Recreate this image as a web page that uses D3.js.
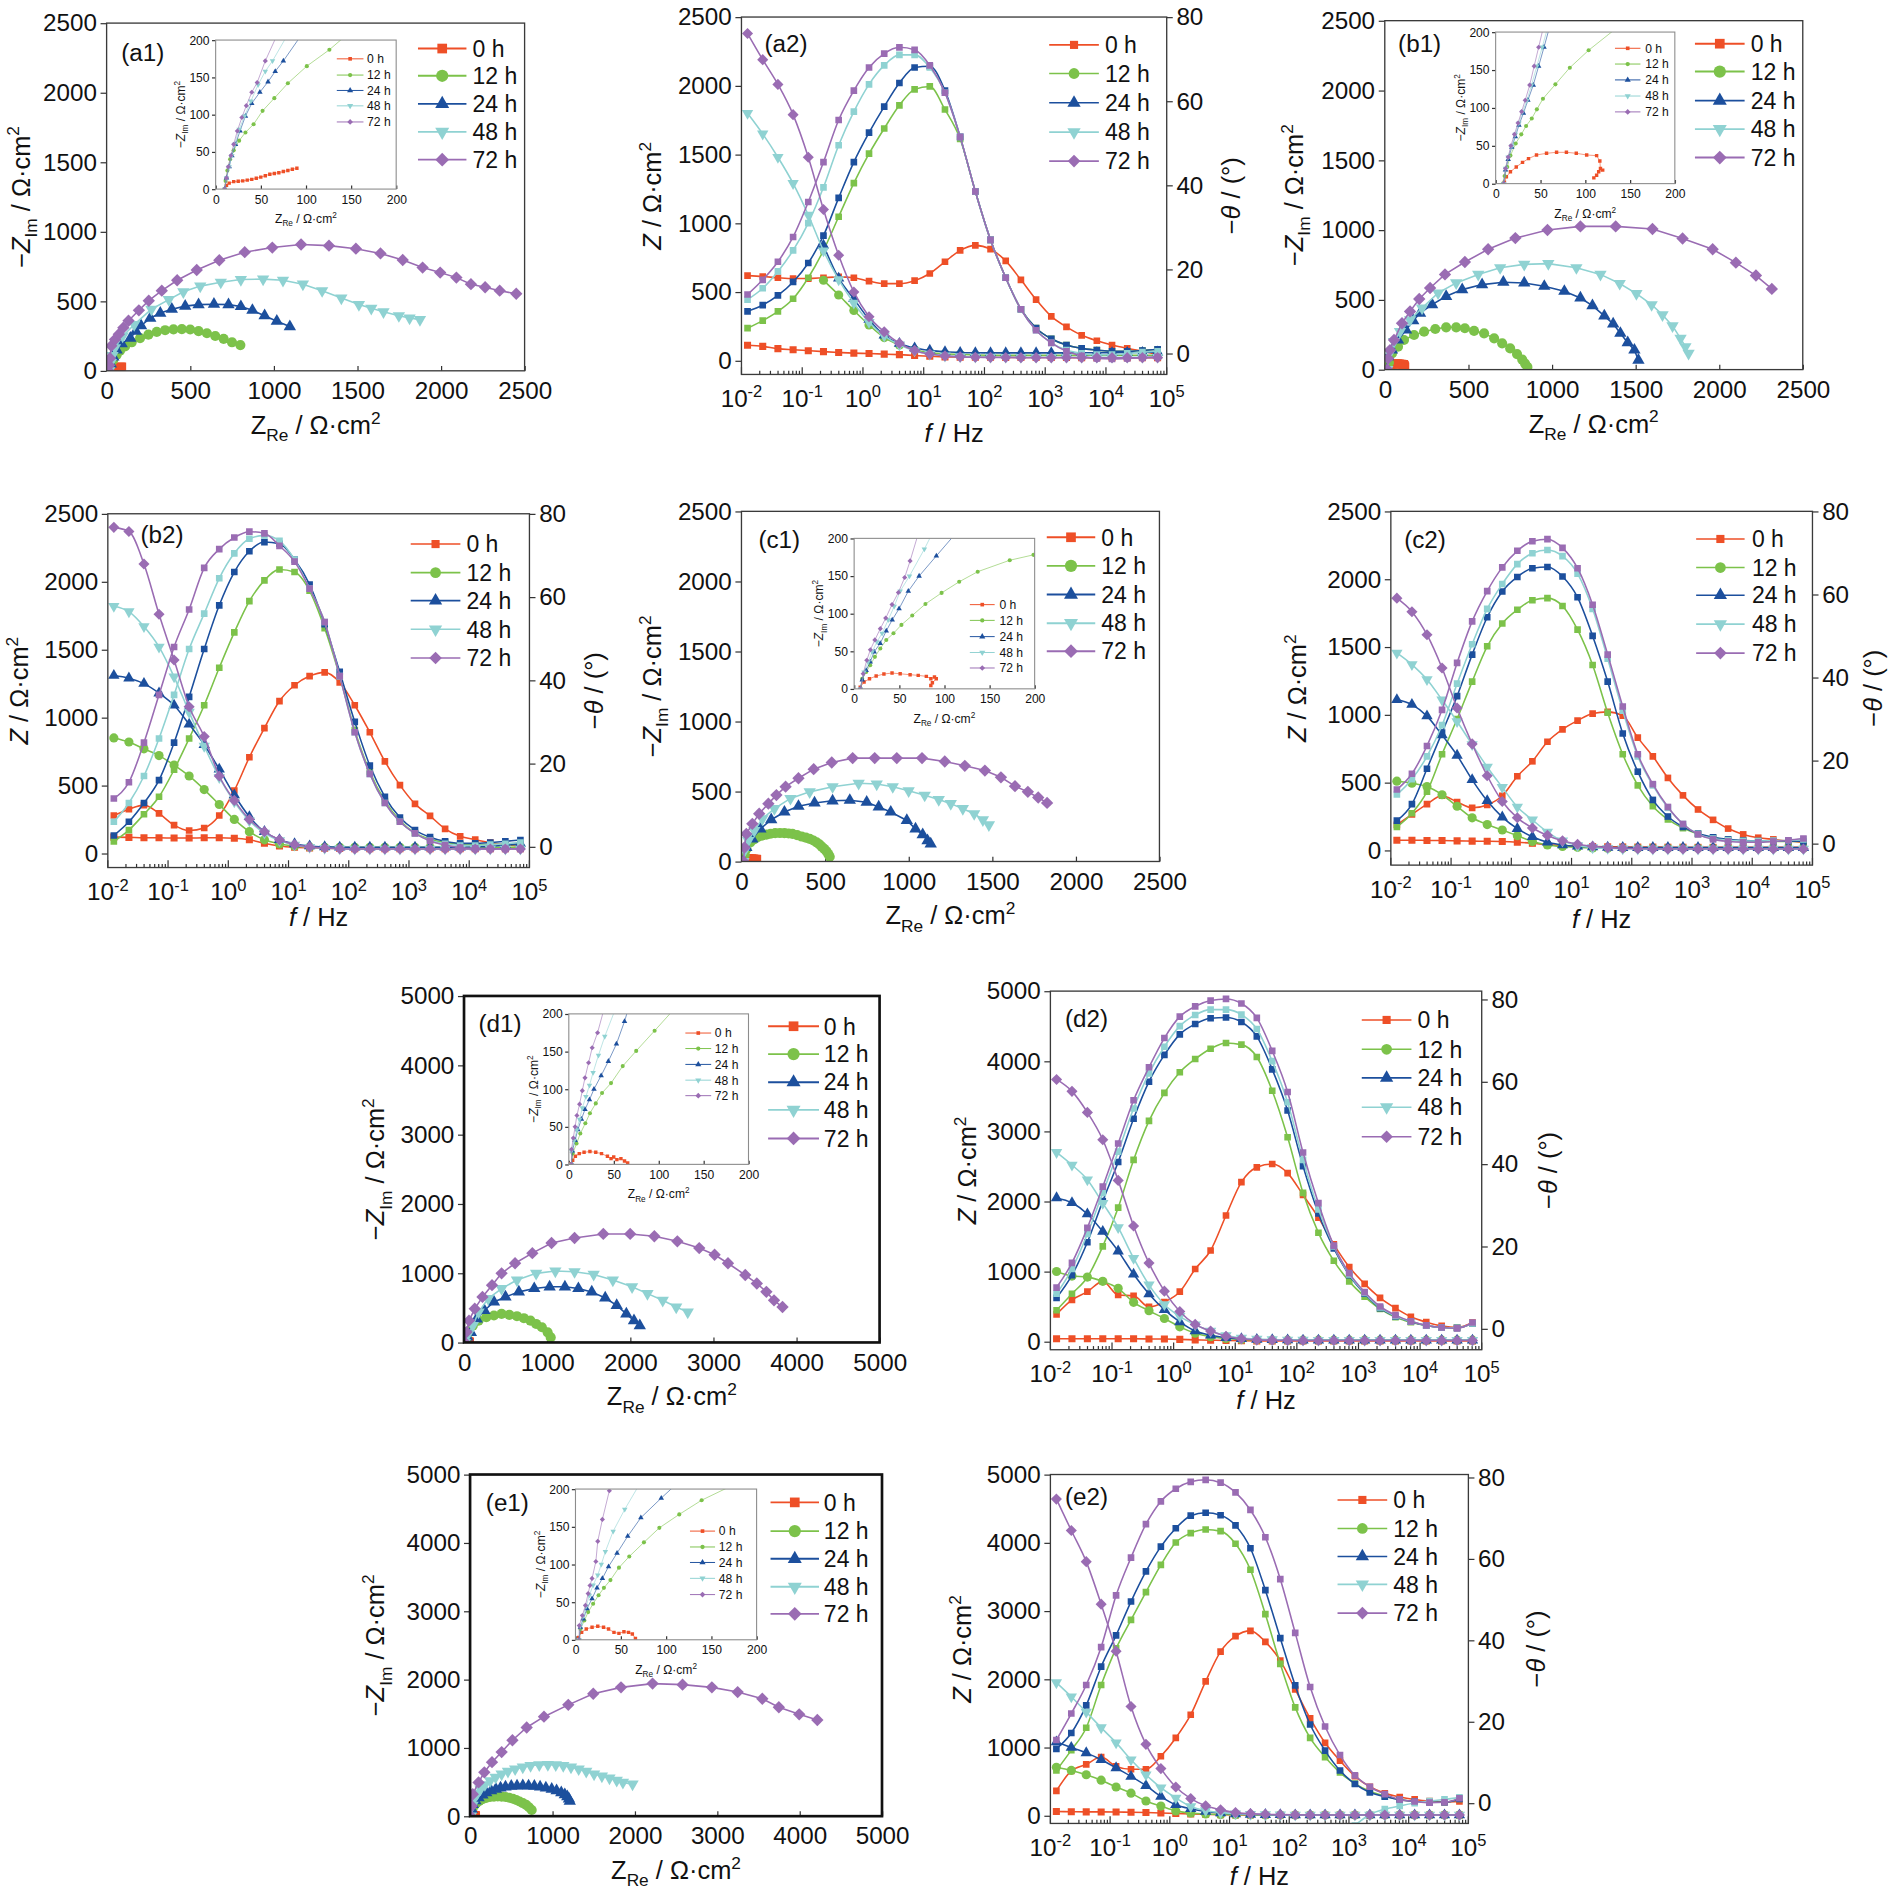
<!DOCTYPE html>
<html>
<head>
<meta charset="utf-8">
<script src="https://cdn.jsdelivr.net/npm/d3@7"></script>
<style>
  body { margin: 0; background: #fff; }
  svg { display: block; }
  svg text { font-family: "Liberation Sans", Arial, Helvetica, sans-serif; fill: #111; }
</style>
</head>
<body>
<svg id="fig"></svg>
<script>
// ---------- data ----------
const SERIES = ["0 h", "12 h", "24 h", "48 h", "72 h"];
const COLORS = ["#ee4f27", "#7cc24a", "#1c4f9d", "#8fd2d2", "#9a6cb3"];

const NYQ_TICKS_2500 = [0, 500, 1000, 1500, 2000, 2500];
const NYQ_TICKS_5000 = [0, 1000, 2000, 3000, 4000, 5000];
const INSET_TICKS = [0, 50, 100, 150, 200];
const PHASE_TICKS = [0, 20, 40, 60, 80];
const DECADES = [-2, -1, 0, 1, 2, 3, 4, 5];

// log10 of the measured frequencies (Hz), shared by all Bode panels
const LOG_F = [-1.9, -1.65, -1.4, -1.15, -0.9, -0.65, -0.4, -0.15, 0.1, 0.35, 0.6, 0.85, 1.1, 1.35,
  1.6, 1.85, 2.1, 2.35, 2.6, 2.85, 3.1, 3.35, 3.6, 3.85, 4.1, 4.35, 4.6, 4.85];

// Nyquist insets [ZRe, -ZIm], one list per series (0 h .. 72 h)
const A1_INSET = [
  [[10,0],[12,5],[15,8],[20,10],[25,10.5],[30,11],[35,12],[40,13],[45,14.5],[50,16],[55,18],[60,20],[65,21],[70,22],[75,23.5],[80,25],[85,26.5],[90,28]],
  [[10,0],[11,11],[13,25],[16,40],[20,52],[26,65],[33,76],[42,87],[52,105],[65,122],[80,142],[101,165],[126,187],[150,212]],
  [[10,0],[12,15],[15,30],[18,45],[22,60],[27,78],[33,98],[40,115],[49,130],[58,144],[66,158],[75,172],[98,212]],
  [[10,0],[12,15],[15,30],[18,45],[21,60],[26,80],[32,98],[39,118],[47,140],[55,158],[63,172],[82,212]],
  [[10,0],[12,15],[14,30],[17,45],[20,60],[24,78],[29,96],[34,112],[40,130],[46,143],[55,172],[70,212]]
];
const B1_INSET = [
  [[9.8,2],[12,9],[16.5,15.6],[23,22],[30,28],[36.7,33],[45.6,37.8],[56.8,40],[68,41.3],[79,41.3],[90,40],[101.6,37.8],[112.7,36.9],[116.3,29.8],[117,20],[119.5,17.8],[115,15.6],[112.7,11],[109.6,7.6]],
  [[8,0],[10,10],[13,22],[16.5,37],[22.4,53],[28.6,65],[34,76],[40.3,86],[46,98],[52.8,112],[66.7,131],[82.8,153],[103.8,176],[140,210]],
  [[9,0],[11,18],[14,32],[18,48],[22,62],[26,77],[31,93],[36,110],[42,130],[48,155],[54,180],[61,210]],
  [[9,0],[11,20],[14,35],[18,50],[22,65],[26,80],[30,95],[35,110],[40,130],[46,155],[52,180],[59,210]],
  [[9,0],[11,20],[14,35],[17,50],[21,65],[25,80],[29,95],[33,110],[38,130],[43,155],[48,180],[54,210]]
];
const C1_INSET = [
  [[6.7,2],[11,9],[17,13.4],[24.4,17],[33,19.7],[42,21],[51,20],[62,18.8],[71,17.9],[80,16.6],[85,13.4],[89,15.7],[91,13.4],[86.7,8],[85,4.5]],
  [[7,0],[8.9,13.4],[13.3,22.4],[17.8,31.3],[23,42.5],[29,53.7],[35.6,64.9],[43.6,73.8],[52.4,85],[64.4,97.5],[79,112.8],[96.9,127.5],[116.4,142.3],[136.9,155.7],[172.4,170.9],[198.7,178.1],[215,182]],
  [[7,0],[9,12],[13.3,24.6],[17.8,35.8],[22.2,49.2],[28.9,60.4],[35.6,77],[42.2,91.7],[49.8,106.5],[60,129.8],[72,149.9],[91.1,176.7],[115,210]],
  [[7,0],[11,22.4],[15.6,35.8],[20,49.2],[25.3,62.6],[31,73.8],[37.8,91.7],[44.4,109.6],[51,129.8],[61.3,149.9],[77.8,185.7],[88,210]],
  [[7,0],[10,20],[14,38],[18,52],[23,65],[29,80],[35,94],[42,112],[49,128],[56,148],[62,170],[72,210]]
];
const D1_INSET = [
  [[2,1],[4.3,5.4],[7.3,10.7],[11.6,14.3],[17,16],[23.5,17],[30,16],[36.4,14.3],[43,10.7],[47,7.6],[50,9.8],[53.5,6.3],[58,7.6],[62,4.5],[65.5,1.8]],
  [[3,0],[4.3,14.3],[8.6,27.7],[12.8,41],[18.4,54.6],[23.5,68],[30,81],[37,94.9],[47,108],[60,130.6],[75,150.8],[95.5,177.6],[120,210]],
  [[3,0],[4,18],[7,32],[10,46],[14,60],[18,73],[23,86],[28,100],[36,118],[44,137],[53,160],[62,190],[67,210]],
  [[3,0],[3,18],[6,32],[9,46],[12,60],[15,75],[19,90],[23,105],[27,122],[33,145],[40,170],[53,210]],
  [[3,0],[3,20],[5,35],[7,50],[9,65],[12,80],[15,98],[18,115],[22,135],[26,155],[32,175],[40,210]]
];
const E1_INSET = [
  [[3.4,3.1],[6.8,9.8],[11.9,14.3],[18.3,16.6],[24.6,17.9],[31,16.6],[36.5,14.3],[42.5,9.8],[48,8.5],[53.5,10.7],[58.6,9.8],[62.8,7.6],[66.2,1.8]],
  [[4,0],[5.5,14.3],[9.8,25.5],[14,36.7],[19.5,47.9],[25.5,59],[31.4,68.9],[38.6,79.2],[48,95.7],[59.4,110.5],[75.6,129.3],[92.6,148.5],[114.6,166.4],[139.3,185.2],[170,203]],
  [[4,0],[5.5,16.6],[8.5,27.7],[12.7,41.2],[18.3,54.6],[23.8,68.9],[29.7,81.4],[36.5,97.1],[45.9,115],[57.7,137.4],[72.2,162],[94.7,188],[110,205]],
  [[4,0],[5.5,18.8],[8.5,31.3],[11.9,44.7],[15.3,59],[19.5,72.5],[24.6,85.9],[28.5,100],[33,117],[41.6,144],[54.4,173],[70,205]],
  [[4,0],[4.2,18.8],[7.6,32.2],[11,45.6],[14,61.3],[16,72],[18.3,81.4],[22.5,103.8],[24.6,130.6],[29.7,159.7],[37.4,197.8],[39,210]]
];

// Nyquist main plots (0 h is the same small arc shown in the inset)
const A1_NYQ = [
  A1_INSET[0],
  [[15,0],[25,40],[40,80],[60,115],[80,145],[110,175],[150,205],[200,235],[250,260],[300,280],[350,292],[400,298],[450,300],[500,297],[550,285],[600,270],[650,250],[700,230],[750,205],[800,185]],
  [[15,0],[25,50],[40,100],[60,150],[90,195],[142,235],[175,285],[206,324],[261,379],[321,415],[390,443],[470,465],[550,476],[642,479],[729,476],[803,462],[872,435],[945,396],[1018,357],[1096,318]],
  [[15,0],[25,60],[35,110],[50,166],[96,249],[165,332],[268,443],[372,512],[459,568],[560,609],[683,637],[803,656],[936,659],[1055,651],[1174,623],[1289,576],[1404,523],[1509,476],[1583,449],[1656,424],[1748,396],[1812,379],[1874,368]],
  [[12,0],[15,40],[20,90],[28,180],[50,225],[73,263],[100,310],[131,360],[193,435],[252,504],[330,576],[422,651],[539,725],[674,795],[826,853],[991,886],[1163,908],[1330,900],[1491,878],[1638,844],[1771,797],[1890,742],[1995,706],[2092,670],[2179,623],[2264,601],[2351,576],[2450,554]]
];
const B1_NYQ = [
  B1_INSET[0],
  [[15,0],[25,50],[43,116],[79,164],[115,212],[175,248],[235,272],[302,291],[367,303],[427,303],[479,296],[534,277],[594,260],[654,224],[702,188],[750,152],[791,111],[822,72],[839,43],[853,19]],
  [[15,0],[19,92],[43,140],[79,212],[127,284],[170,350],[211,405],[283,465],[367,525],[463,573],[582,609],[709,626],[834,621],[954,597],[1074,561],[1170,513],[1242,458],[1313,385],[1366,328],[1409,260],[1453,193],[1493,140],[1517,67]],
  [[15,0],[30,120],[55,200],[91,272],[151,356],[223,441],[319,549],[427,621],[559,682],[690,730],[834,754],[978,759],[1146,730],[1290,682],[1405,617],[1505,544],[1596,465],[1661,393],[1721,313],[1769,224],[1798,164],[1817,116]],
  [[15,0],[20,80],[31,140],[55,212],[103,332],[151,417],[206,506],[271,585],[360,682],[479,771],[618,862],[781,942],[973,1000],[1170,1026],[1381,1026],[1601,1007],[1781,939],[1961,862],[2100,766],[2220,674],[2315,578]]
];
const C1_NYQ = [
  C1_INSET[0],
  [[12,0],[20,50],[30,90],[53,137],[75,158],[96,173],[122,184],[149,192],[175,198],[202,202],[230,203],[257,202],[282,200],[305,197],[333,188],[360,178],[385,170],[408,161],[430,150],[449,137],[466,122],[480,106],[495,90],[509,72],[520,52],[528,34]],
  [[12,0],[29,101],[65,161],[113,233],[178,298],[257,353],[341,394],[437,418],[545,433],[648,437],[749,423],[821,389],[893,353],[989,293],[1041,233],[1084,192],[1113,149],[1132,125]],
  [[12,0],[20,80],[41,149],[77,221],[125,305],[197,377],[293,450],[408,497],[545,534],[701,558],[809,553],[905,534],[1000,505],[1096,473],[1180,442],[1252,413],[1324,377],[1392,341],[1444,298],[1480,262]],
  [[12,0],[18,100],[29,197],[65,269],[106,341],[161,413],[209,474],[264,534],[341,594],[432,659],[540,707],[665,738],[797,738],[929,738],[1080,738],[1216,714],[1336,683],[1456,649],[1552,601],[1636,538],[1713,497],[1775,457],[1828,418]]
];
const D1_NYQ = [
  D1_INSET[0],
  [[10,0],[30,60],[60,146],[106,243],[175,316],[268,365],[360,389],[452,413],[545,399],[637,379],[720,350],[799,316],[868,267],[937,219],[1006,146],[1043,73]],
  [[10,0],[40,80],[83,146],[152,340],[245,462],[360,584],[499,657],[660,730],[845,778],[1030,803],[1214,803],[1376,778],[1537,730],[1699,642],[1837,535],[1953,413],[2045,316],[2115,243]],
  [[10,0],[50,120],[106,243],[175,438],[291,632],[452,778],[637,900],[868,997],[1099,1031],[1330,1021],[1560,982],[1791,900],[2022,803],[2207,705],[2391,608],[2553,511],[2692,438]],
  [[10,0],[30,150],[60,316],[129,486],[222,657],[337,827],[452,997],[614,1143],[822,1289],[1053,1435],[1330,1508],[1676,1566],[1999,1566],[2290,1532],[2567,1459],[2830,1362],[3015,1265],[3176,1143],[3384,973],[3523,851],[3638,730],[3730,608],[3832,511]]
];
const E1_NYQ = [
  E1_INSET[0],
  [[10,0],[20,70],[33,123],[55,165],[79,197],[112,225],[150,250],[195,268],[243,280],[290,287],[336,290],[383,287],[430,280],[475,270],[520,255],[560,237],[600,215],[640,192],[680,165],[715,130],[748,90]],
  [[10,0],[20,100],[33,173],[65,225],[103,271],[150,310],[196,345],[255,372],[313,395],[370,413],[430,429],[500,440],[570,444],[640,446],[710,444],[780,438],[850,429],[920,414],[991,395],[1050,372],[1107,345],[1150,315],[1180,285],[1200,252],[1210,220]],
  [[10,0],[30,160],[56,271],[90,335],[126,395],[180,460],[243,518],[310,570],[383,617],[460,657],[547,691],[640,718],[734,740],[840,752],[944,755],[1040,750],[1131,740],[1225,718],[1318,691],[1410,655],[1505,617],[1600,588],[1692,558],[1780,525],[1855,494],[1972,469]],
  [[10,0],[20,150],[33,321],[103,494],[173,642],[266,790],[383,938],[514,1111],[687,1298],[897,1456],[1192,1629],[1495,1792],[1832,1885],[2215,1940],[2579,1925],[2935,1885],[3248,1816],[3547,1718],[3748,1594],[3995,1490],[4215,1407]]
];

// Bode plots: |Z| (Ω·cm²) and -phase (°) at LOG_F, one row per series (0 h .. 72 h)
const A2_Z = [
  [112,104,88,80,73,66,60,55,52,48,44,38,32,28,26,25,25,24,24,23,23,23,22,22,22,22,22,22],
  [null,null,null,null,null,585,478,365,260,168,115,80,60,50,45,42,40,40,40,40,40,40,40,40,40,40,40,40],
  [null,null,null,null,null,840,600,450,300,185,125,92,75,65,60,58,57,57,57,57,57,57,58,58,58,59,60,62],
  [1800,1650,1480,1290,1060,800,590,420,280,180,115,72,48,35,30,27,26,25,25,25,25,25,25,25,25,25,25,25],
  [2380,2190,2010,1790,1480,1100,767,500,320,210,127,75,48,35,28,25,24,23,22,22,22,22,22,22,22,22,22,22]
];
const A2_PH = [
  [18.5,18.3,18,17.8,17.8,18,18.2,18,17.2,16.6,16.6,17.3,19,21.8,24.5,25.7,24.8,22,17.5,12.8,8.8,6.3,4.3,3,2,1.2,0.5,-0.3],
  [6,7.8,10,13,18,24.5,32.5,40.5,47.5,53.5,59,62.8,63.5,58,51,38.5,27,18,10.5,6,3.5,2,1.2,0.8,0.5,0.5,0.7,1],
  [10,11.5,13.8,17,21.5,28,37,45.5,52.5,58.7,64.3,68,68.3,62.5,51.5,38.5,27,18,10.5,6,3.5,2,1.2,0.8,0.5,0.5,0.7,1],
  [12.8,15.5,19.5,24.5,31,39.5,49.5,57.5,64,68.5,71,71,68,62,51.5,38.5,27,18,10.5,5.5,2.5,0.8,0,-0.3,-0.3,0,0.3,0.5],
  [14,17.5,21.8,27.7,36,45.5,55.5,62.5,68,71.3,72.8,72.2,68.5,62,51.5,38.5,27,18,10.5,5.5,2.5,0.5,-0.6,-1.2,-1.3,-1.2,-1,-0.8]
];
const B2_Z = [
  [120,118,115,115,113,113,115,115,112,100,75,55,45,40,38,36,35,35,35,35,35,35,35,35,35,35,35,35],
  [850,820,770,720,650,570,470,360,250,160,100,70,55,48,45,45,45,45,45,45,45,45,45,45,45,45,45,45],
  [1310,1290,1250,1180,1090,950,800,620,430,270,160,100,70,55,48,45,45,45,45,45,45,45,45,45,48,52,60,72],
  [1820,1780,1670,1520,1300,1040,790,560,380,240,150,95,62,45,38,35,33,32,32,32,32,32,32,32,32,32,32,32],
  [2400,2370,2130,1760,1424,1080,860,570,390,250,160,100,65,48,40,35,32,32,32,32,32,32,32,32,32,32,32,32]
];
const B2_PH = [
  [7.5,9,10,8,5.2,3.9,4.5,7.5,13.5,21.5,28.5,35,38.8,41,41.9,39.5,34,27.5,20.5,14.8,10.3,7.4,4.3,2.5,1.7,1,0.5,0.2],
  [1.3,4,7.8,12,18.5,26,34,43,51.5,59,64,66.6,66,61.5,52.5,41,28,18,11,6.3,3.3,1.8,1,0.6,0.5,0.5,0.5,0.5],
  [2.7,6,10.5,16,25,36,47.5,58,66,71,73.2,72.8,69,63,53.5,42,30,19.5,12,7,4,2.3,1.3,0.8,0.8,1,1.3,1.6],
  [6,10.5,17,26,36.5,47.5,56,64.5,70.5,74,74.8,73.5,69,62,54,41,27.5,17.5,10.5,6,3.2,1.5,0.7,0.3,0.3,0.5,0.7,1],
  [11.6,15.5,25,36.5,48,57,67,71.5,74.3,75.7,75.3,72.3,68.5,62,54,41,27.5,17.5,10.5,6,3.2,1.4,0.4,-0.2,-0.4,-0.5,-0.5,-0.5]
];
const C2_Z = [
  [75,75,73,72,70,68,67,65,60,52,42,35,30,28,26,25,24,24,23,23,22,22,22,22,22,22,22,22],
  [510,495,470,410,325,240,190,150,108,65,40,28,22,18,15,15,15,15,15,15,15,15,15,15,15,15,15,15],
  [1110,1075,990,850,700,520,365,245,160,100,60,40,30,25,22,20,20,20,20,20,20,20,20,20,20,20,20,20],
  [1456,1370,1260,1110,950,780,615,465,320,225,135,70,35,20,15,12,10,10,10,10,10,10,10,10,10,10,10,10],
  [1860,1760,1590,1345,1050,785,550,360,240,165,110,70,45,30,20,15,12,10,10,10,10,10,10,10,10,10,10,10]
];
const C2_PH = [
  [4.5,7,9.5,11.5,10,8.6,9.3,11.5,16.2,19.8,24.5,27.5,29.6,31.3,31.7,30.8,25.5,21,15.8,11.6,8.2,5.7,3.6,2.2,1.4,1,0.6,0.3],
  [4,7.3,12.5,21.5,30,39,47.5,53,56.3,58.6,59.1,57.2,51.5,43,31.5,21.5,14,9,5.8,3.7,2.3,1.4,0.9,0.6,0.5,0.5,0.5,0.5],
  [5.5,9.5,18,26.7,35.5,45.5,54.5,60.7,64.2,66.3,66.6,64.3,59.3,50,39,26.5,17.3,10.5,6.5,4,2.4,1.5,1,0.7,0.6,0.6,0.6,0.5],
  [11.8,15.5,21,28.5,38.5,48,56.5,62.5,67.3,69.9,70.7,69.2,65,56.5,44.5,32,21,14,8.6,4.7,2.3,1.2,0.8,0.6,0.6,0.7,0.8,1],
  [13,16.8,23.5,32.2,43.5,53.5,60.8,66.5,70.5,72.8,73.3,71.2,66.3,57.5,45.5,33,21.5,14.3,8.8,4.7,2.2,1,0.5,0.3,0.3,0.5,0.8,1.2]
];
const D2_Z = [
  [40,40,40,40,40,40,38,36,32,25,20,15,12,10,10,10,10,10,10,10,10,10,10,10,10,10,10,10],
  [1000,935,920,860,760,560,440,330,210,120,70,45,30,25,22,20,20,20,20,20,20,20,20,20,20,20,20,20],
  [2050,1980,1820,1570,1291,960,680,455,280,150,90,55,40,30,25,22,20,20,20,20,20,20,20,20,20,20,20,20],
  [2700,2520,2310,1975,1628,1190,810,530,360,240,150,85,50,35,28,24,22,20,20,20,20,20,20,20,20,20,20,20],
  [3740,3570,3270,2880,2300,1650,1120,720,430,245,150,75,40,25,20,18,15,15,15,15,15,15,15,15,15,15,15,15]
];
const D2_PH = [
  [3.5,7,9,11.5,8.2,8,5.3,6.5,9,14.5,19,27.5,35.6,39.2,40,37.8,32.5,27,20.5,15,10.9,7.5,5,2.9,1.6,0.7,0.3,1.5],
  [4.5,8.5,12.5,20,29.4,41,50.5,57.3,62.3,65.5,68,69.4,69,66,57.8,46.5,33,23.3,16.5,11.5,7.8,4.8,2.8,1.6,0.8,0.3,0.2,1.3],
  [7.5,13,21,31,40.5,51,60,66.5,71.5,74,75.4,75.6,74.5,71,63,53,39.5,28,19.5,13,8.5,5,3,1.7,0.8,0.3,0.2,1.3],
  [8.5,14.5,23,33,43,53.5,62,68.5,73.5,76.2,77.5,77.5,76.3,72.8,65,55,41,29,20,13.2,8.7,5.2,3.1,1.8,0.8,0.3,0.2,1.3],
  [10,16,24.5,34.5,45,55.5,63.5,70.6,75.8,78.3,79.7,80.1,79,75.5,67.5,57.5,42.8,30.5,20.2,13.5,8.9,5.4,3.3,1.8,0.8,0.3,0.1,1.5]
];
const E2_Z = [
  [60,58,56,55,53,50,46,40,32,25,20,15,12,10,10,10,10,10,10,10,10,10,10,10,10,10,10,10],
  [710,663,600,520,420,330,215,140,70,40,25,18,15,12,10,10,10,10,10,10,10,10,10,10,10,10,10,10],
  [1080,1000,920,820,700,575,440,280,160,100,60,38,25,18,15,12,10,10,10,10,10,10,10,10,10,10,10,10],
  [1950,1743,1520,1290,1070,820,600,410,260,135,75,45,28,20,15,12,10,10,10,10,10,10,10,10,10,10,10,10],
  [4640,4180,3723,3100,2410,1600,1045,690,420,250,145,85,45,30,20,15,12,10,10,10,10,10,10,10,10,10,10,10]
];
const E2_PH = [
  [3,7.9,9.5,11.3,9,8.3,8.3,11.5,16,21.7,29.9,37.2,41,42.3,39.6,35,27.9,20.8,14.8,10.4,6.6,4,2.4,1.5,0.9,0.5,0.3,0.4],
  [8,13,18.5,29,38,45,51.8,58.5,64,66.3,67.2,66.8,63.7,57.3,46.4,34.2,23.5,16,11.3,7.5,4.8,2.9,1.7,0.9,0.4,0.2,0.2,1],
  [13.3,17.2,24,33.5,41.2,49.5,56.9,63,67.5,70.6,71.3,70.7,68.2,62.6,52.3,40.5,28.9,19.3,12.9,8,4.7,2.6,1.6,0.8,0.4,0.2,0.2,1],
  [null,null,null,null,null,null,null,null,null,null,null,null,null,null,null,null,null,null,null,-9,-5.5,-2.8,-1.5,-0.7,0,0.5,0.9,1.4],
  [15.5,22,29,38.3,51,60.3,68.5,74.1,77.2,78.9,79.4,78.7,76.3,72,65.3,55,41.8,28.5,18.8,11.8,6.8,4,2.2,0.9,0.4,0.1,0.2,1.2]
];

// ---------- drawing helpers ----------
const FONT = '"Liberation Sans", Arial, Helvetica, sans-serif';
const W = 1560, H = 1564;
const TICK_FS = 20;
const fmt = d3.format("d");

const svg = d3.select("#fig")
  .attr("width", 1890)
  .attr("height", 1895)
  .attr("viewBox", `0 0 ${W} ${H}`);
svg.append("rect").attr("width", W).attr("height", H).attr("fill", "#fff");
const defs = svg.append("defs");

let nClip = 0;
function clipRect(L, T, R, B) {
  const id = "clip" + (nClip++);
  defs.append("clipPath").attr("id", id)
    .append("rect").attr("x", L).attr("y", T).attr("width", R - L).attr("height", B - T);
  return `url(#${id})`;
}

const triUp = {
  draw(ctx, size) {
    const a = Math.sqrt(size * 4 / Math.sqrt(3)), h = a * Math.sqrt(3) / 2;
    ctx.moveTo(0, -2 * h / 3); ctx.lineTo(a / 2, h / 3); ctx.lineTo(-a / 2, h / 3); ctx.closePath();
  }
};
const triDown = {
  draw(ctx, size) {
    const a = Math.sqrt(size * 4 / Math.sqrt(3)), h = a * Math.sqrt(3) / 2;
    ctx.moveTo(0, 2 * h / 3); ctx.lineTo(a / 2, -h / 3); ctx.lineTo(-a / 2, -h / 3); ctx.closePath();
  }
};
const diamond = {
  draw(ctx, size) {
    const r = Math.sqrt(size / 2);
    ctx.moveTo(0, -r); ctx.lineTo(r, 0); ctx.lineTo(0, r); ctx.lineTo(-r, 0); ctx.closePath();
  }
};
const SYMBOLS = [d3.symbolSquare, d3.symbolCircle, triUp, triDown, diamond];

const NYQ_SIZE = [55, 55, 45, 45, 52];
const BODE_Z_SIZE = [34, 45, 38, 38, 42];
const BODE_PH_SIZE = 30;
const INSET_SIZE = [8, 9, 9, 9, 9];
const LEG_NYQ = [64, 80, 58, 58, 64];
const LEG_BODE = [45, 62, 52, 52, 54];
const LEG_INSET = [9, 10, 11, 11, 11];

// text with italic / sub / superscript pieces
function rich(sel, parts, fs) {
  let shift = 0;
  parts.forEach(p => {
    const target = p.sub ? fs * 0.28 : p.sup ? -fs * 0.4 : 0;
    const ts = sel.append("tspan").text(p.t);
    if (target !== shift) ts.attr("dy", target - shift);
    shift = target;
    if (p.sub || p.sup) ts.attr("font-size", fs * 0.68);
    if (p.i) ts.attr("font-style", "italic");
  });
  return sel;
}
function addText(g, x, y, parts, fs, opts = {}) {
  const t = g.append("text").attr("font-size", fs).attr("text-anchor", opts.anchor || "middle");
  if (opts.rot) t.attr("transform", `translate(${x + fs * 0.35},${y}) rotate(-90)`);
  else t.attr("x", x).attr("y", y);
  return rich(t, parts, fs);
}

const T_ZRE = [{ t: "Z" }, { t: "Re", sub: true }, { t: " / Ω·cm" }, { t: "2", sup: true }];
const T_ZIM = [{ t: "−" }, { t: "Z", i: true }, { t: "Im", sub: true }, { t: " / Ω·cm" }, { t: "2", sup: true }];
const T_Z = [{ t: "Z", i: true }, { t: " / Ω·cm" }, { t: "2", sup: true }];
const T_TH = [{ t: "−" }, { t: "θ", i: true }, { t: " / (°)" }];
const T_F = [{ t: "f", i: true }, { t: " / Hz" }];

function styleAxis(ax, fs) {
  ax.select(".domain").remove();
  ax.selectAll(".tick line").attr("stroke", "#333").attr("stroke-width", 1);
  ax.selectAll(".tick text").attr("font-size", fs).attr("font-family", FONT).attr("fill", "#111");
}

function frame(g, p, thick, color, width) {
  return g.append("rect")
    .attr("x", p.L).attr("y", p.T).attr("width", p.R - p.L).attr("height", p.B - p.T)
    .attr("fill", "none")
    .attr("stroke", color || (thick ? "#111" : "#3a3a3a"))
    .attr("stroke-width", width || (thick ? 2.2 : 1.1));
}

function series(g, pts, xs, ys, sym, size, color, lw, curve, op) {
  const line = d3.line()
    .defined(d => d[1] != null)
    .x(d => xs(d[0])).y(d => ys(d[1]))
    .curve(curve || d3.curveLinear);
  g.append("path").attr("d", line(pts))
    .attr("fill", "none").attr("stroke", color)
    .attr("stroke-width", lw).attr("stroke-opacity", op || 1);
  g.selectAll(null).data(pts.filter(d => d[1] != null)).enter().append("path")
    .attr("d", d3.symbol(sym, size)())
    .attr("transform", d => `translate(${xs(d[0])},${ys(d[1])})`)
    .attr("fill", color);
}

function legend(g, lg, sizes, fs, lw) {
  SERIES.forEach((s, i) => {
    const yy = lg.rows[i];
    g.append("line").attr("x1", lg.x1).attr("x2", lg.x2).attr("y1", yy).attr("y2", yy)
      .attr("stroke", COLORS[i]).attr("stroke-width", lw);
    g.append("path").attr("d", d3.symbol(SYMBOLS[i], sizes[i])())
      .attr("transform", `translate(${(lg.x1 + lg.x2) / 2},${yy})`)
      .attr("fill", COLORS[i]);
    g.append("text").attr("x", lg.tx).attr("y", yy).attr("dy", "0.36em")
      .attr("font-size", fs).text(s);
  });
}

function inset(g, q, data) {
  const x = d3.scaleLinear().domain([0, 200]).range([q.L, q.R]);
  const y = d3.scaleLinear().domain([0, 200]).range([q.B, q.T]);
  g.append("rect").attr("x", q.L).attr("y", q.T).attr("width", q.R - q.L).attr("height", q.B - q.T).attr("fill", "#fff");
  const ax = g.append("g").attr("transform", `translate(${q.L},0)`)
    .call(d3.axisLeft(y).tickValues(INSET_TICKS).tickFormat(fmt).tickSize(3).tickPadding(2));
  styleAxis(ax, 10);
  const bx = g.append("g").attr("transform", `translate(0,${q.B})`)
    .call(d3.axisBottom(x).tickValues(INSET_TICKS).tickFormat(fmt).tickSize(-3).tickPadding(5));
  styleAxis(bx, 10);
  const pg = g.append("g").attr("clip-path", clipRect(q.L, q.T, q.R, q.B));
  data.forEach((s, i) => series(pg, s, x, y, SYMBOLS[i], INSET_SIZE[i], COLORS[i], 0.8, d3.curveLinear, 0.6));
  frame(g, q, false, "#8c8c8c", 0.9);
  addText(g, (q.L + q.R) / 2, q.B + 28, T_ZRE, 10);
  addText(g, q.L - 29, (q.T + q.B) / 2, T_ZIM, 10, { rot: true });
  legend(g, q.leg, LEG_INSET, 10, 0.8);
}

function nyquist(p) {
  const g = svg.append("g");
  const x = d3.scaleLinear().domain([0, p.max]).range([p.L, p.R]);
  const y = d3.scaleLinear().domain([0, p.max]).range([p.B, p.T]);
  const ticks = p.max === 2500 ? NYQ_TICKS_2500 : NYQ_TICKS_5000;
  const ax = g.append("g").attr("transform", `translate(${p.L},0)`)
    .call(d3.axisLeft(y).tickValues(ticks).tickFormat(fmt).tickSize(5).tickPadding(3));
  styleAxis(ax, TICK_FS);
  const bx = g.append("g").attr("transform", `translate(0,${p.B})`)
    .call(d3.axisBottom(x).tickValues(ticks).tickFormat(fmt).tickSize(-4).tickPadding(9));
  styleAxis(bx, TICK_FS);
  const pg = g.append("g").attr("clip-path", clipRect(p.L, p.T, p.R, p.B));
  p.data.forEach((s, i) => series(pg, s, x, y, SYMBOLS[i], NYQ_SIZE[i], COLORS[i], 1.3));
  frame(g, p, p.thick);
  addText(g, (p.L + p.R) / 2, p.B + 52, T_ZRE, 21);
  addText(g, p.yt, (p.T + p.B) / 2, T_ZIM, 21, { rot: true });
  addText(g, p.lab[0], p.lab[1], [{ t: p.label }], 20, { anchor: "start" });
  legend(g, p.leg, LEG_NYQ, 19, 1.6);
  inset(g, p.inset, p.insetData);
}

function bode(p) {
  const g = svg.append("g");
  const x = d3.scaleLog().domain([1e-2, 1e5]).range([p.L, p.R]);
  const yZ = d3.scaleLinear().domain(p.zDom).range([p.B, p.T]);
  const yP = d3.scaleLinear().domain(p.pDom).range([p.B, p.T]);
  const ax = g.append("g").attr("transform", `translate(${p.L},0)`)
    .call(d3.axisLeft(yZ).tickValues(p.zTicks).tickFormat(fmt).tickSize(5).tickPadding(3));
  styleAxis(ax, TICK_FS);
  const rx = g.append("g").attr("transform", `translate(${p.R},0)`)
    .call(d3.axisRight(yP).tickValues(PHASE_TICKS).tickFormat(fmt).tickSize(5).tickPadding(3));
  styleAxis(rx, TICK_FS);
  // log x axis: inward major and minor ticks, 10^n labels
  DECADES.forEach(e => {
    const xx = x(Math.pow(10, e));
    g.append("line").attr("x1", xx).attr("x2", xx).attr("y1", p.B).attr("y2", p.B - 6).attr("stroke", "#333");
    if (e < 5) {
      for (let k = 2; k <= 9; k++) {
        const xm = x(k * Math.pow(10, e));
        g.append("line").attr("x1", xm).attr("x2", xm).attr("y1", p.B).attr("y2", p.B - 3).attr("stroke", "#333");
      }
    }
    addText(g, xx, p.B + 27, [{ t: "10" }, { t: String(e), sup: true }], TICK_FS);
  });
  const pg = g.append("g").attr("clip-path", clipRect(p.L, p.T, p.R, p.B));
  SERIES.forEach((s, i) => {
    const zPts = LOG_F.map((e, k) => [Math.pow(10, e), p.z[i][k]]);
    const phPts = LOG_F.map((e, k) => [Math.pow(10, e), p.ph[i][k]]);
    series(pg, zPts, x, yZ, SYMBOLS[i], BODE_Z_SIZE[i], COLORS[i], 1.3, d3.curveMonotoneX);
    series(pg, phPts, x, yP, d3.symbolSquare, BODE_PH_SIZE, COLORS[i], 1.3, d3.curveMonotoneX);
  });
  frame(g, p, false);
  addText(g, (p.L + p.R) / 2, p.xt, T_F, 21);
  addText(g, p.yt, (p.T + p.B) / 2, T_Z, 21, { rot: true });
  addText(g, p.rt, (p.T + p.B) / 2, T_TH, 21, { rot: true });
  addText(g, p.lab[0], p.lab[1], [{ t: p.label }], 20, { anchor: "start" });
  legend(g, p.leg, LEG_BODE, 19, 1.3);
}

// ---------- panels ----------
nyquist({
  label: "(a1)", L: 88, R: 433, T: 19, B: 306, max: 2500, yt: 17, lab: [100, 50], data: A1_NYQ,
  leg: { x1: 345, x2: 385, tx: 390, rows: [40, 62.5, 85.7, 108.8, 131.7] },
  inset: { L: 178, R: 327, T: 33, B: 156, leg: { x1: 278, x2: 300, tx: 303, rows: [48.5, 61.9, 74.6, 87.3, 100.6] } },
  insetData: A1_INSET
});
bode({
  label: "(a2)", L: 612, R: 963, T: 14, B: 309, zDom: [-100, 2500], pDom: [-5, 80], zTicks: NYQ_TICKS_2500,
  yt: 538, rt: 1016, xt: 365, lab: [631, 43], z: A2_Z, ph: A2_PH,
  leg: { x1: 866, x2: 907, tx: 912, rows: [37, 60.6, 84.8, 109, 132.9] }
});
nyquist({
  label: "(b1)", L: 1143, R: 1488, T: 17, B: 305, max: 2500, yt: 1068, lab: [1154, 43], data: B1_NYQ,
  leg: { x1: 1399, x2: 1440, tx: 1445, rows: [36, 59, 83, 106.5, 130] },
  inset: { L: 1234.5, R: 1382.4, T: 26.4, B: 151.5, leg: { x1: 1333, x2: 1354, tx: 1358, rows: [39.8, 52.8, 65.9, 79.2, 92.3] } },
  insetData: B1_INSET
});
bode({
  label: "(b2)", L: 89, R: 437, T: 424, B: 716, zDom: [-104, 2500], pDom: [-5, 80], zTicks: NYQ_TICKS_2500,
  yt: 16, rt: 490, xt: 764.5, lab: [116, 448], z: B2_Z, ph: B2_PH,
  leg: { x1: 339, x2: 380, tx: 385, rows: [449, 472.6, 495.7, 519.3, 543] }
});
nyquist({
  label: "(c1)", L: 612, R: 957, T: 422, B: 711, max: 2500, yt: 538, lab: [626, 452], data: C1_NYQ,
  leg: { x1: 864, x2: 904, tx: 909, rows: [443.4, 467, 490.7, 514.3, 537.4] },
  inset: { L: 705, R: 854, T: 444.3, B: 568.5, leg: { x1: 800.5, x2: 821, tx: 825, rows: [499, 512, 525.4, 538.5, 551.3] } },
  insetData: C1_INSET
});
bode({
  label: "(c2)", L: 1148, R: 1496, T: 422, B: 714, zDom: [-109, 2500], pDom: [-5.2, 80], zTicks: NYQ_TICKS_2500,
  yt: 1071, rt: 1546, xt: 766, lab: [1159, 452], z: C2_Z, ph: C2_PH,
  leg: { x1: 1400, x2: 1440, tx: 1446, rows: [444.8, 468.4, 491.2, 515.1, 539] }
});
nyquist({
  label: "(d1)", L: 383, R: 726, T: 822, B: 1108, max: 5000, thick: true, yt: 310, lab: [395, 852], data: D1_NYQ,
  leg: { x1: 634, x2: 676, tx: 680, rows: [847, 870, 893.2, 916, 939.6] },
  inset: { L: 469.5, R: 617.8, T: 836.8, B: 961, leg: { x1: 565.7, x2: 587, tx: 590, rows: [852.6, 865.4, 878.5, 891.5, 904.3] } },
  insetData: D1_INSET
});
bode({
  label: "(d2)", L: 867, R: 1223, T: 818, B: 1114, zDom: [-116, 5000], pDom: [-5.1, 82], zTicks: NYQ_TICKS_5000,
  yt: 798, rt: 1278, xt: 1163, lab: [879, 848], z: D2_Z, ph: D2_PH,
  leg: { x1: 1124, x2: 1165, tx: 1170, rows: [841.8, 866, 889.6, 913.8, 938.2] }
});
nyquist({
  label: "(e1)", L: 388, R: 728, T: 1217, B: 1499, max: 5000, thick: true, yt: 310, lab: [401, 1247], data: E1_NYQ,
  leg: { x1: 636, x2: 676, tx: 680, rows: [1240, 1263.7, 1286.6, 1309.7, 1332] },
  inset: { L: 475, R: 624.5, T: 1229, B: 1353.4, leg: { x1: 569.5, x2: 590.2, tx: 593.3, rows: [1263.7, 1276.8, 1289.6, 1302.7, 1316.1] } },
  insetData: E1_INSET
});
bode({
  label: "(e2)", L: 867, R: 1212, T: 1217, B: 1505, zDom: [-114, 5000], pDom: [-5, 80.7], zTicks: NYQ_TICKS_5000,
  yt: 794, rt: 1268, xt: 1556, lab: [879, 1242], z: E2_Z, ph: E2_PH,
  leg: { x1: 1104, x2: 1145, tx: 1150, rows: [1238, 1261.5, 1284.6, 1307.7, 1331.4] }
});
</script>
</body>
</html>
